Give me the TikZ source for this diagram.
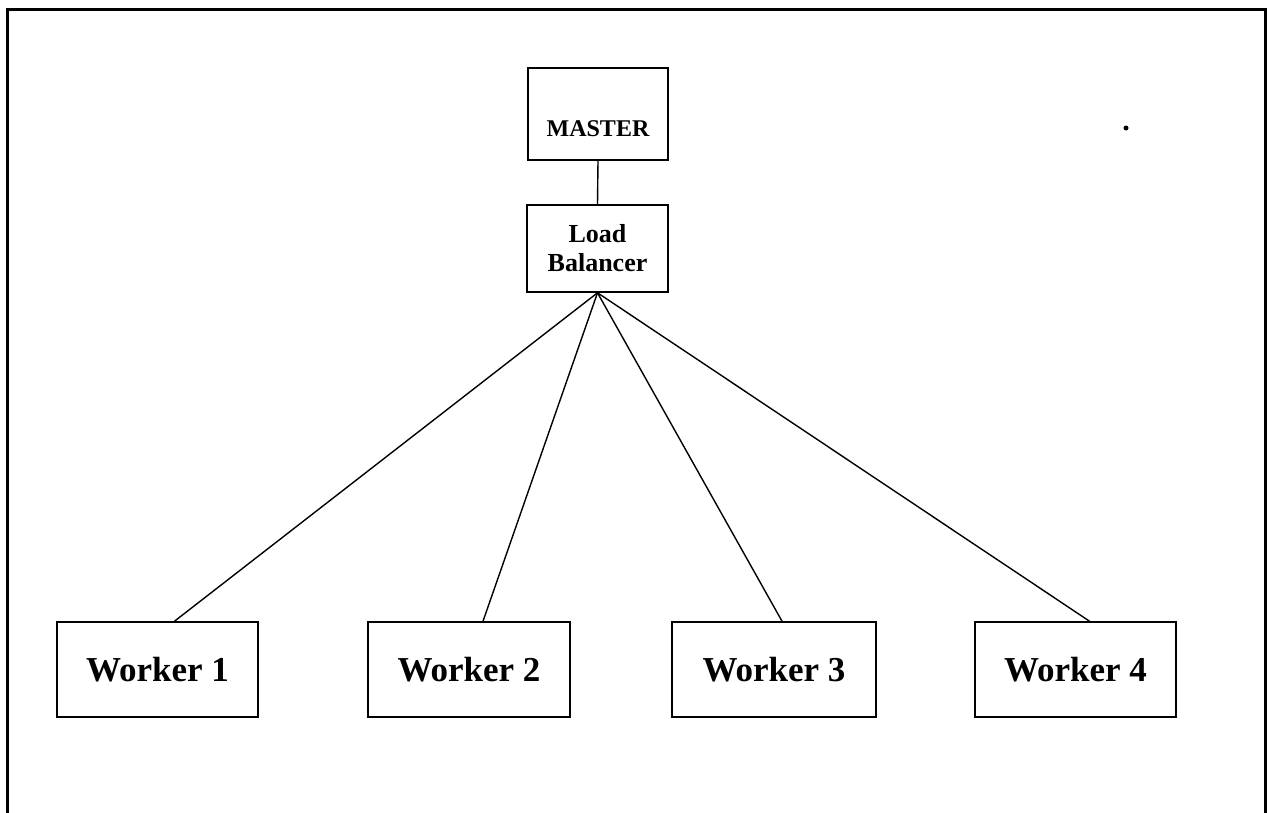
\documentclass[tikz,border=0pt]{standalone}
\usepackage{fontspec}
\setmainfont{Liberation Serif}
\begin{document}
\begin{tikzpicture}[x=1pt,y=-1pt,
  box/.style={draw, line width=1.6pt, rectangle, inner sep=0pt, align=center},
  link/.style={line width=1.4pt},
  wtext/.style={font=\bfseries\fontsize{35}{38}\selectfont},
  mtext/.style={font=\bfseries\fontsize{24}{28}\selectfont},
  ltext/.style={font=\bfseries\fontsize{26}{29}\selectfont}]
\useasboundingbox (0,0) rectangle (1267,812);
% outer frame
\draw[line width=3pt] (7,815) -- (7,9) -- (1265,9) -- (1265,815);
% hierarchy
\node[box, mtext, minimum width=140pt, minimum height=92pt] (master) at (598,114) {\raisebox{-22pt}[0pt][0pt]{MASTER}};
\node[box, ltext, minimum width=141pt, minimum height=87pt] (lb) at (597.5,248.5) {Load\\Balancer};
\node[box, wtext, minimum width=201pt, minimum height=95pt] (w1) at (157.5,669.5) {Worker 1};
\node[box, wtext, minimum width=202pt, minimum height=95pt] (w2) at (469,669.5) {Worker 2};
\node[box, wtext, minimum width=204pt, minimum height=95pt] (w3) at (774,669.5) {Worker 3};
\node[box, wtext, minimum width=201pt, minimum height=95pt] (w4) at (1075.5,669.5) {Worker 4};
\draw[link] (master.south) -- (lb.north);
\draw[link] (lb.south) -- ([xshift=17pt]w1.north);
\draw[link] (lb.south) -- ([xshift=14pt]w2.north);
\draw[link] (lb.south) -- ([xshift=8pt]w3.north);
\draw[link] (lb.south) -- ([xshift=14pt]w4.north);
% small speck near the top right
\fill (1126,128) circle (2.5pt);
\end{tikzpicture}
\end{document}
